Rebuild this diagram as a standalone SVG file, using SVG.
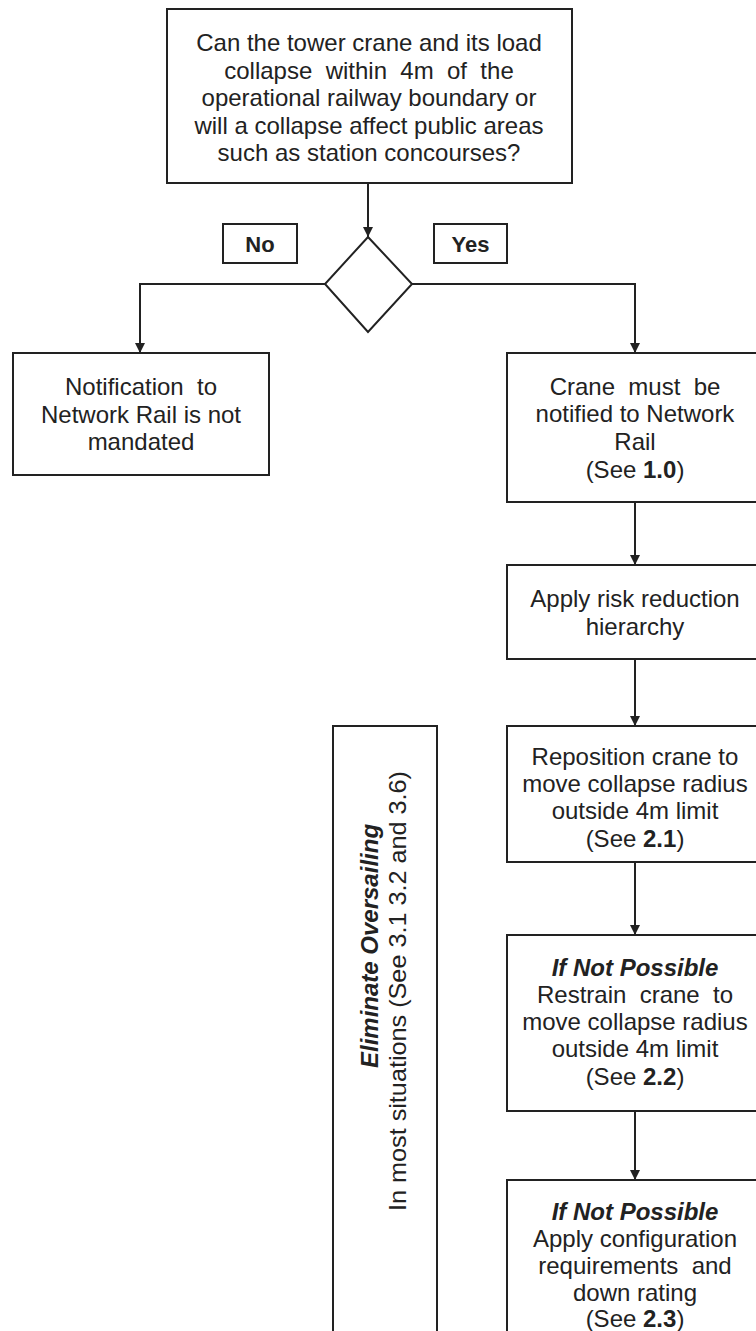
<svg xmlns="http://www.w3.org/2000/svg" width="756" height="1331" viewBox="0 0 756 1331">
<style>
.box{fill:#fff;stroke:#222;stroke-width:2}
.t{font-family:"Liberation Sans",Arial,sans-serif;font-size:24px;fill:#222;text-anchor:middle;white-space:pre}
.b{font-weight:bold}
.bi{font-weight:bold;font-style:italic}
.con{fill:none;stroke:#222;stroke-width:2}
</style>
<defs>
<marker id="arr" viewBox="0 0 10 10" refX="10" refY="5" markerWidth="5" markerHeight="5" orient="auto" markerUnits="strokeWidth">
<path d="M0,0 L10,5 L0,10 z" fill="#222"/>
</marker>
</defs>
<rect width="756" height="1331" fill="#fff"/>
<g id="connectors">
<path class="con" d="M368,183 V237" marker-end="url(#arr)"/>
<path class="con" d="M325,284 H140 V353" marker-end="url(#arr)"/>
<path class="con" d="M412,284 H635 V353" marker-end="url(#arr)"/>
<path class="con" d="M635,502 V565" marker-end="url(#arr)"/>
<path class="con" d="M635,659 V726" marker-end="url(#arr)"/>
<path class="con" d="M635,862 V935" marker-end="url(#arr)"/>
<path class="con" d="M635,1111 V1180" marker-end="url(#arr)"/>
</g>
<g id="question">
<rect class="box" x="167" y="9" width="405" height="174"/>
<text class="t" x="369" y="51" xml:space="preserve">Can the tower crane and its load</text>
<text class="t" x="369" y="78.5" xml:space="preserve">collapse  within  4m  of  the</text>
<text class="t" x="369" y="106" xml:space="preserve">operational railway boundary or</text>
<text class="t" x="369" y="133.5" xml:space="preserve">will a collapse affect public areas</text>
<text class="t" x="369" y="161" xml:space="preserve">such as station concourses?</text>
</g>
<g id="decision">
<polygon class="box" points="368,237 412,284 368,332 325,284"/>
</g>
<g id="label-no">
<rect class="box" x="223" y="224" width="74" height="39"/>
<text class="t b" x="260" y="252" style="font-size:22px">No</text>
</g>
<g id="label-yes">
<rect class="box" x="434" y="224" width="73" height="39"/>
<text class="t b" x="470.5" y="252" style="font-size:22px">Yes</text>
</g>
<g id="not-mandated">
<rect class="box" x="13" y="353" width="256" height="122"/>
<text class="t" x="141" y="395" xml:space="preserve">Notification  to</text>
<text class="t" x="141" y="423" xml:space="preserve">Network Rail is not</text>
<text class="t" x="141" y="450" xml:space="preserve">mandated</text>
</g>
<g id="notify">
<rect class="box" x="507" y="353" width="258" height="149"/>
<text class="t" x="635" y="395" xml:space="preserve">Crane  must  be</text>
<text class="t" x="635" y="422" xml:space="preserve">notified to Network</text>
<text class="t" x="635" y="450" xml:space="preserve">Rail</text>
<text class="t" x="635" y="478" xml:space="preserve">(See <tspan class="b">1.0</tspan>)</text>
</g>
<g id="risk-hierarchy">
<rect class="box" x="507" y="565" width="258" height="94"/>
<text class="t" x="635" y="607" xml:space="preserve">Apply risk reduction</text>
<text class="t" x="635" y="635" xml:space="preserve">hierarchy</text>
</g>
<g id="eliminate">
<rect class="box" x="333" y="726" width="104" height="620"/>
<text class="t bi" transform="translate(378,946) rotate(-90)">Eliminate Oversailing</text>
<text class="t" transform="translate(406,991) rotate(-90)" textLength="440" lengthAdjust="spacingAndGlyphs">In most situations (See 3.1 3.2 and 3.6)</text>
</g>
<g id="reposition">
<rect class="box" x="507" y="726" width="258" height="136"/>
<text class="t" x="635" y="765" xml:space="preserve">Reposition crane to</text>
<text class="t" x="635" y="792" xml:space="preserve">move collapse radius</text>
<text class="t" x="635" y="819" xml:space="preserve">outside 4m limit</text>
<text class="t" x="635" y="847" xml:space="preserve">(See <tspan class="b">2.1</tspan>)</text>
</g>
<g id="restrain">
<rect class="box" x="507" y="935" width="258" height="176"/>
<text class="t bi" x="635" y="976">If Not Possible</text>
<text class="t" x="635" y="1003" xml:space="preserve">Restrain  crane  to</text>
<text class="t" x="635" y="1030" xml:space="preserve">move collapse radius</text>
<text class="t" x="635" y="1057" xml:space="preserve">outside 4m limit</text>
<text class="t" x="635" y="1085" xml:space="preserve">(See <tspan class="b">2.2</tspan>)</text>
</g>
<g id="configuration">
<rect class="box" x="507" y="1180" width="258" height="170"/>
<text class="t bi" x="635" y="1220">If Not Possible</text>
<text class="t" x="635" y="1247" xml:space="preserve">Apply configuration</text>
<text class="t" x="635" y="1274" xml:space="preserve">requirements  and</text>
<text class="t" x="635" y="1301" xml:space="preserve">down rating</text>
<text class="t" x="635" y="1327" xml:space="preserve">(See <tspan class="b">2.3</tspan>)</text>
</g>
</svg>
